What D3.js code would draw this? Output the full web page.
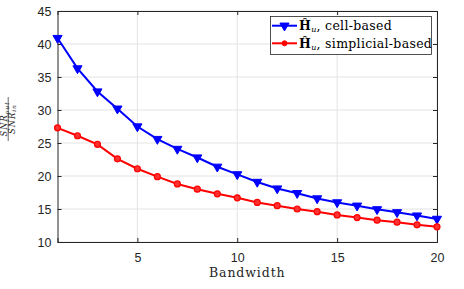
<!DOCTYPE html>
<html>
<head>
<style>
  html, body { margin: 0; padding: 0; background: #fff; }
  text { font-family: "Liberation Sans", Arial, sans-serif; }
  .serif { font-family: "DejaVu Serif", "Liberation Serif", serif; }
</style>
<script src="https://d3js.org/d3.v7.min.js"></script>
</head>
<body>
<div id="chart"></div>
<script>
var bandwidth = d3.range(1, 21);
var cellBased = [40.9, 36.3, 32.8, 30.2, 27.5, 25.6, 24.1, 22.8, 21.4, 20.25,
                 19.1, 18.1, 17.4, 16.6, 16.0, 15.5, 14.95, 14.5, 14.0, 13.5];
var simplicialBased = [27.3, 26.1, 24.8, 22.6, 21.1, 19.9, 18.8, 18.0, 17.3, 16.7,
                       16.0, 15.5, 15.0, 14.6, 14.1, 13.7, 13.3, 13.0, 12.6, 12.3];
var xTicks = [5, 10, 15, 20];
var yTicks = [10, 15, 20, 25, 30, 35, 40, 45];

var w = 464, h = 289;
var m = { left: 57.5, right: 437, top: 11, bottom: 242 };

var svg = d3.select("#chart").append("svg")
    .attr("width", w)
    .attr("height", h);

var x = d3.scaleLinear().domain([1, 20]).range([m.left, m.right]);
var y = d3.scaleLinear().domain([10, 45]).range([m.bottom, m.top]);

// grid
svg.selectAll(".gx").data(xTicks).enter().append("line")
    .attr("x1", d => x(d)).attr("x2", d => x(d))
    .attr("y1", m.top).attr("y2", m.bottom)
    .style("stroke", "#e3e3e3").style("stroke-width", 1);
svg.selectAll(".gy").data(yTicks).enter().append("line")
    .attr("x1", m.left).attr("x2", m.right)
    .attr("y1", d => y(d)).attr("y2", d => y(d))
    .style("stroke", "#e3e3e3").style("stroke-width", 1);

// axes
var axColor = "#262626";
svg.append("g").attr("transform", "translate(0," + m.bottom + ")")
    .call(d3.axisBottom(x).tickValues(xTicks).tickSize(-4).tickPadding(11));
svg.append("g").attr("transform", "translate(" + m.left + ",0)")
    .call(d3.axisLeft(y).tickValues(yTicks).tickSize(-4).tickPadding(6));
svg.append("g").attr("transform", "translate(0," + m.top + ")")
    .call(d3.axisTop(x).tickValues(xTicks).tickSize(-4).tickFormat(""));
svg.append("g").attr("transform", "translate(" + m.right + ",0)")
    .call(d3.axisRight(y).tickValues(yTicks).tickSize(-4).tickFormat(""));
svg.selectAll(".domain").style("stroke", axColor);
svg.selectAll(".tick line").style("stroke", axColor);
svg.selectAll(".tick text")
    .style("font-family", "Liberation Sans, Arial, sans-serif")
    .style("font-size", "12.5px")
    .style("fill", axColor);

// lines
var line = d3.line().x((d, i) => x(bandwidth[i])).y(d => y(d));
svg.append("path").datum(simplicialBased)
    .attr("d", line).style("fill", "none")
    .style("stroke", "#ff0000").style("stroke-width", 2);
svg.append("path").datum(cellBased)
    .attr("d", line).style("fill", "none")
    .style("stroke", "#0000ff").style("stroke-width", 2);

var tri = d3.symbol().type(d3.symbolTriangle).size(36);
svg.selectAll(".tri").data(cellBased).enter().append("path")
    .attr("d", tri)
    .attr("transform", (d, i) => "translate(" + x(bandwidth[i]) + "," + y(d) + ") rotate(180)")
    .style("fill", "#0000ff").style("stroke", "#0000ff").style("stroke-width", 1);
svg.selectAll(".circ").data(simplicialBased).enter().append("circle")
    .attr("cx", (d, i) => x(bandwidth[i]))
    .attr("cy", d => y(d))
    .attr("r", 3)
    .style("fill", "#ff3030").style("stroke", "#ff0000").style("stroke-width", 1.2);

// x label
svg.append("text").attr("class", "serif")
    .attr("x", (m.left + m.right) / 2).attr("y", 277)
    .attr("text-anchor", "middle")
    .style("font-size", "12.5px").style("letter-spacing", "0.9px").style("fill", axColor)
    .text("Bandwidth");

// y label: SNR_out / SNR_in
var yl = svg.append("g").attr("transform", "translate(8,119) rotate(-90)");
var num = yl.append("text").attr("class", "serif")
    .attr("x", 0).attr("y", -0.9).attr("text-anchor", "middle")
    .style("font-size", "8.3px").style("letter-spacing", "1px")
    .style("font-style", "italic").style("fill", axColor);
num.append("tspan").text("SNR");
num.append("tspan").attr("dy", 1.5).style("font-size", "6px").text("out");
var den = yl.append("text").attr("class", "serif")
    .attr("x", 0).attr("y", 6.8).attr("text-anchor", "middle")
    .style("font-size", "8.3px").style("letter-spacing", "1px")
    .style("font-style", "italic").style("fill", axColor);
den.append("tspan").text("SNR");
den.append("tspan").attr("dy", 1.5).style("font-size", "6px").text("in");
yl.append("line").attr("x1", -22).attr("x2", 22).attr("y1", 0.2).attr("y2", 0.2)
    .style("stroke", axColor).style("stroke-width", 0.7);

// legend
var legendItems = [
    { label: ", cell-based", color: "#0000ff", marker: "tri" },
    { label: ", simplicial-based", color: "#ff0000", marker: "circ" }
];
var lg = svg.append("g");
lg.append("rect").attr("x", 270.5).attr("y", 16.5).attr("width", 161).attr("height", 38)
    .style("fill", "#fff").style("stroke", "#262626").style("stroke-width", 0.8);
legendItems.forEach(function(it, i) {
    var ly = 25.7 + i * 17.6;
    lg.append("line").attr("x1", 272).attr("x2", 297).attr("y1", ly).attr("y2", ly)
        .style("stroke", it.color).style("stroke-width", 2);
    if (it.marker == "tri") {
        lg.append("path").attr("d", tri)
            .attr("transform", "translate(284.5," + ly + ") rotate(180)")
            .style("fill", it.color).style("stroke", it.color);
    } else {
        lg.append("circle").attr("cx", 284.5).attr("cy", ly).attr("r", 2.5)
            .style("fill", it.color).style("stroke", it.color);
    }
    var t = lg.append("text").attr("class", "serif")
        .attr("x", 299).attr("y", ly + 4.5)
        .style("font-size", "12.5px").style("letter-spacing", "0.3px").style("fill", "#000");
    t.append("tspan").style("font-weight", "bold").text("Ĥ");
    t.append("tspan").attr("dy", 2).style("font-size", "8px").style("font-style", "italic").text("u");
    t.append("tspan").attr("dy", -2).text(it.label);
});
</script>
</body>
</html>
